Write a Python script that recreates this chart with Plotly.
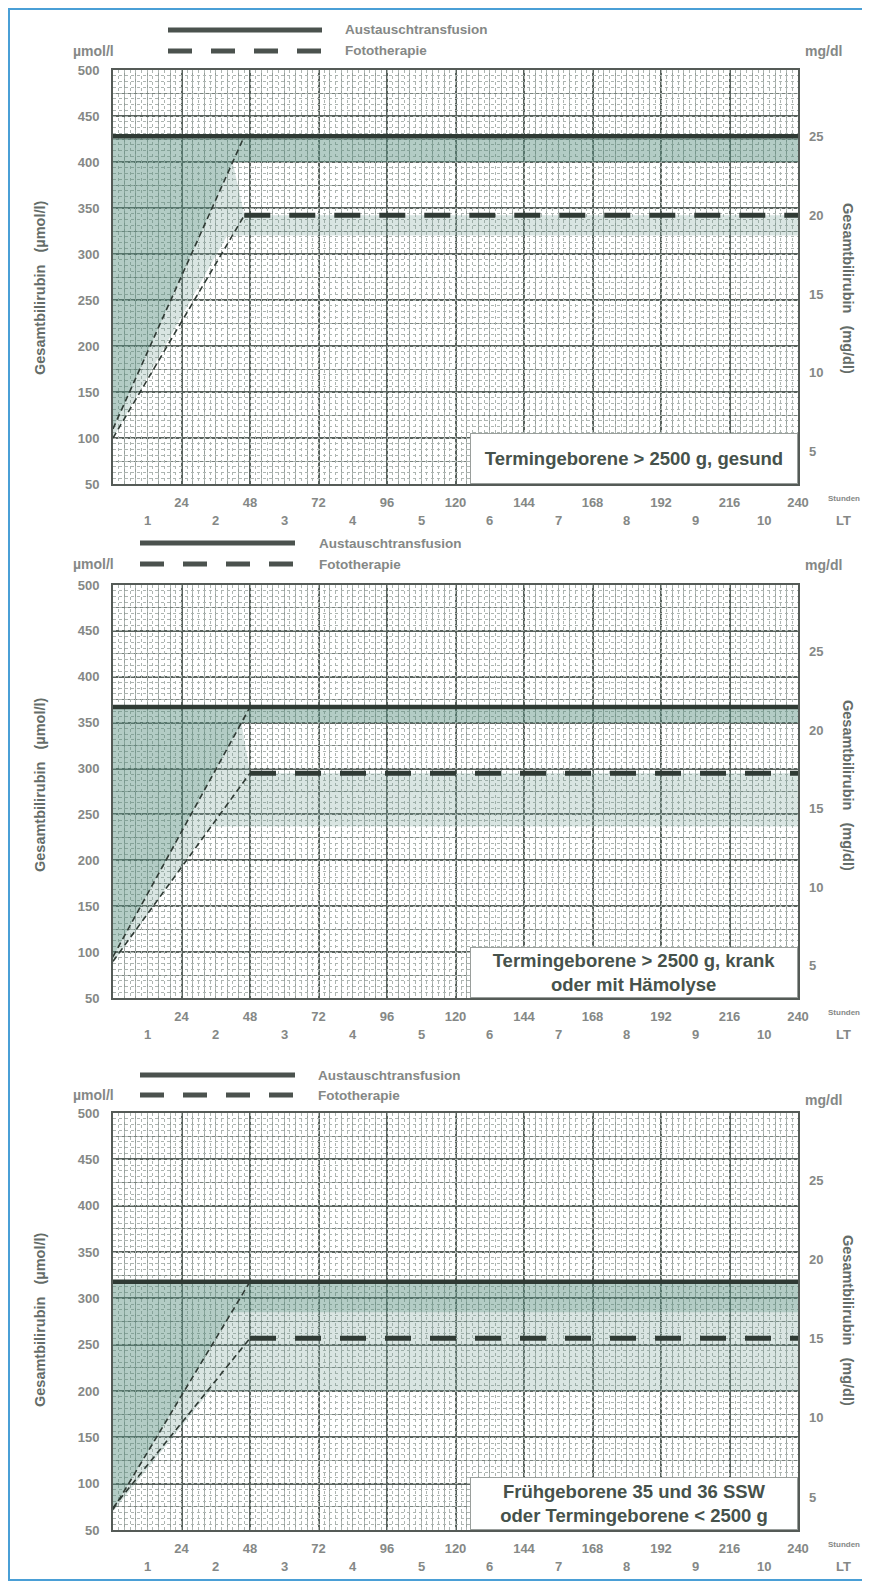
import plotly.graph_objects as go

PAGE_W, PAGE_H = 870, 1585
BODY_MARGIN = 8
W, H = PAGE_W - BODY_MARGIN, PAGE_H - BODY_MARGIN

# ---------------- data ----------------
hour_ticks = [24, 48, 72, 96, 120, 144, 168, 192, 216, 240]
day_labels = ["1", "2", "3", "4", "5", "6", "7", "8", "9", "10"]
day_centres = [12, 36, 60, 84, 108, 132, 156, 180, 204, 228]
umol_ticks = [50, 100, 150, 200, 250, 300, 350, 400, 450, 500]
mgdl_ticks = [5, 10, 15, 20, 25]
UMOL_PER_MGDL = 17.1

panel_labels = [
    "Termingeborene > 2500 g, gesund",
    "Termingeborene > 2500 g, krank<br>oder mit Hämolyse",
    "Frühgeborene 35 und 36 SSW<br>oder Termingeborene < 2500 g",
]
exchange_level = [428, 367, 318]        # Austauschtransfusion (µmol/l)
exchange_band_low = [400, 350, 285]
photo_level = [342, 295, 257]           # Fototherapie (µmol/l)
photo_band_low = [320, 237, 200]
gap_top = [400, 350, 257]
exchange_ramp_start = [110, 95, 72]     # µmol/l at hour 0
exchange_ramp_end_h = [46, 48, 48]
photo_ramp_start = [100, 90, 74]
photo_ramp_end_h = [46, 48, 48]
shade_edge_start = [100, 88, 70]
shade_edge_end_h = [40, 34, 34]

# ---------------- style / layout (page pixels) ----------------
panel_top_px = [70, 585, 1113]
panel_bot_px = [484, 998, 1530]
plot_left, plot_right = 113, 798
legend_solid_y = [30, 543, 1075]
legend_dash_y = [51, 564, 1095]
legend_x0 = [168, 140, 140]
legend_x1 = [322, 295, 295]
legend_text_x = [343, 317, 316]
mg_unit_y = [51, 565, 1100]
title_y_px = [288, 785, 1320]
box_h = [51, 51, 53]

FONT = "Liberation Sans, Arial, sans-serif"
GREY = "#858886"
DARK = "#2f3a34"
LIGHT_FILL = "rgba(120,160,150,0.28)"
DARK_FILL = "rgba(60,125,105,0.24)"


def px(x):
    return (x - BODY_MARGIN) / W


def py(y):
    return 1 - (y - BODY_MARGIN) / H


def label(x, y, text, size, color=GREY, xref="paper", yref="paper", **kw):
    d = dict(x=x, y=y, xref=xref, yref=yref, text=text, showarrow=False,
             xanchor="center", yanchor="middle",
             font=dict(family=FONT, size=size, color=color))
    d.update(kw)
    return d


fig = go.Figure()
annotations = []
shapes = []
layout = {}

for i in range(3):
    n = i + 1
    xa = "x" if n == 1 else f"x{n}"
    ya = "y" if n == 1 else f"y{n}"
    ymg = f"y{n + 3}"
    ydot = f"y{n + 6}"
    xdot = f"x{n + 3}"

    ex, exl = exchange_level[i], exchange_band_low[i]
    pt, ptl = photo_level[i], photo_band_low[i]
    er0, erh = exchange_ramp_start[i], exchange_ramp_end_h[i]
    pr0, prh = photo_ramp_start[i], photo_ramp_end_h[i]
    se0, seh = shade_edge_start[i], shade_edge_end_h[i]
    gt = gap_top[i]

    t_gap = erh * (gt - er0) / (ex - er0)
    t_exl = erh * (exl - er0) / (ex - er0)

    # light zone
    fig.add_trace(go.Scatter(
        x=[0, seh, 240, 240, prh, t_gap, 240, 240, 0],
        y=[se0, ptl, ptl, pt, pt, gt, gt, ex, ex],
        fill="toself", fillcolor=LIGHT_FILL, mode="lines", line=dict(width=0),
        xaxis=xa, yaxis=ya, showlegend=False, hoverinfo="skip"))
    # darker exchange zone
    fig.add_trace(go.Scatter(
        x=[0, t_exl, 240, 240, 0],
        y=[er0, exl, exl, ex, ex],
        fill="toself", fillcolor=DARK_FILL, mode="lines", line=dict(width=0),
        xaxis=xa, yaxis=ya, showlegend=False, hoverinfo="skip"))
    # ramps
    fig.add_trace(go.Scatter(
        x=[0, erh], y=[er0, ex], mode="lines",
        line=dict(color=DARK, width=1.6, dash="6px,4px"),
        xaxis=xa, yaxis=ya, showlegend=False, hoverinfo="skip"))
    fig.add_trace(go.Scatter(
        x=[0, prh], y=[pr0, pt], mode="lines",
        line=dict(color=DARK, width=1.6, dash="6px,4px"),
        xaxis=xa, yaxis=ya, showlegend=False, hoverinfo="skip"))
    # exchange transfusion line
    fig.add_trace(go.Scatter(
        x=[0, 240], y=[ex, ex], mode="lines",
        line=dict(color=DARK, width=4.5),
        xaxis=xa, yaxis=ya, showlegend=False, hoverinfo="skip"))
    # phototherapy line
    fig.add_trace(go.Scatter(
        x=[prh, 240], y=[pt, pt], mode="lines",
        line=dict(color=DARK, width=5, dash="26px,19px"),
        xaxis=xa, yaxis=ya, showlegend=False, hoverinfo="skip"))
    # invisible traces to activate overlay axes
    fig.add_trace(go.Scatter(x=[0, 240], y=[ex / UMOL_PER_MGDL] * 2, mode="lines",
                             line=dict(width=0), opacity=0, xaxis=xa, yaxis=ymg,
                             showlegend=False, hoverinfo="skip"))
    fig.add_trace(go.Scatter(x=[0, 240], y=[ex, ex], mode="lines",
                             line=dict(width=0), opacity=0, xaxis=xa, yaxis=ydot,
                             showlegend=False, hoverinfo="skip"))
    fig.add_trace(go.Scatter(x=[0, 240], y=[ex, ex], mode="lines",
                             line=dict(width=0), opacity=0, xaxis=xdot, yaxis=ya,
                             showlegend=False, hoverinfo="skip"))

    xdom = [px(plot_left), px(plot_right)]
    ydom = [py(panel_bot_px[i]), py(panel_top_px[i])]
    tickfont = dict(family=FONT, size=13, color=GREY)

    layout["xaxis" if n == 1 else f"xaxis{n}"] = dict(
        domain=xdom, anchor=ya, range=[0, 240], automargin=False,
        tickmode="array", tickvals=hour_ticks,
        ticktext=[f"<b>{v}</b>" for v in hour_ticks],
        tickfont=tickfont, ticks="", ticklabelstandoff=5,
        showgrid=True, gridcolor="#59625d", gridwidth=1.7,
        minor=dict(tick0=0, dtick=4, showgrid=True, gridcolor="#959e9a", gridwidth=1.0),
        showline=True, linecolor="#555b57", linewidth=2, mirror=True,
        zeroline=False, fixedrange=True)
    layout[f"xaxis{n + 3}"] = dict(
        domain=xdom, anchor=ya, overlaying=xa, range=[0, 240], automargin=False,
        tickmode="linear", tick0=0, dtick=2, showticklabels=False, ticks="",
        showgrid=True, gridcolor="#adb5b1", gridwidth=0.8, griddash="dot",
        showline=False, zeroline=False, fixedrange=True)
    layout["yaxis" if n == 1 else f"yaxis{n}"] = dict(
        domain=ydom, anchor=xa, range=[50, 500], automargin=False,
        tickmode="array", tickvals=umol_ticks,
        ticktext=[f"<b>{v}</b>" for v in umol_ticks],
        tickfont=tickfont, ticks="", ticklabelstandoff=9,
        showgrid=True, gridcolor="#59625d", gridwidth=1.6,
        minor=dict(tick0=0, dtick=25, showgrid=True, gridcolor="#7a837e", gridwidth=1.0),
        showline=True, linecolor="#555b57", linewidth=2, mirror=True,
        zeroline=False, fixedrange=True)
    layout[f"yaxis{n + 3}"] = dict(
        domain=ydom, anchor=xa, overlaying=ya, side="right", automargin=False,
        range=[50 / UMOL_PER_MGDL, 500 / UMOL_PER_MGDL],
        tickmode="array", tickvals=mgdl_ticks,
        ticktext=[f"<b>{v}</b>" for v in mgdl_ticks],
        tickfont=tickfont, ticks="", ticklabelstandoff=10,
        showgrid=False, showline=False, zeroline=False, fixedrange=True)
    layout[f"yaxis{n + 6}"] = dict(
        domain=ydom, anchor=xa, overlaying=ya, range=[50, 500], automargin=False,
        tickmode="linear", tick0=0, dtick=6.25, showticklabels=False, ticks="",
        showgrid=True, gridcolor="#adb5b1", gridwidth=0.8, griddash="dot",
        showline=False, zeroline=False, fixedrange=True)

    xdomref = f"{xa} domain"
    ydomref = f"{ya} domain"

    # day labels (LT)
    for d, lab in zip(day_centres, day_labels):
        annotations.append(label(d, 0, f"<b>{lab}</b>", 13, xref=xa, yref=ydomref, yshift=-36))
    annotations.append(label(px(843), 0, "<b>LT</b>", 13, yref=ydomref, yshift=-36))
    annotations.append(label(px(826), 0, "<b>Stunden</b>", 8, yref=ydomref, yshift=-14,
                             xanchor="left"))
    # unit labels
    annotations.append(label(px(93), py(legend_dash_y[i]), "<b>µmol/l</b>", 14))
    annotations.append(label(px(823), py(mg_unit_y[i]), "<b>mg/dl</b>", 14))
    # axis titles
    annotations.append(label(px(40), py(title_y_px[i]), "<b>Gesamtbilirubin   (µmol/l)</b>",
                             14.5, color="#646c68", textangle=-90))
    annotations.append(label(px(848), py(title_y_px[i]), "<b>Gesamtbilirubin   (mg/dl)</b>",
                             14.5, color="#646c68", textangle=90))
    # legend
    shapes.append(dict(type="line", xref="paper", yref="paper",
                       x0=px(legend_x0[i]), x1=px(legend_x1[i]),
                       y0=py(legend_solid_y[i]), y1=py(legend_solid_y[i]),
                       line=dict(color="#4b524e", width=5)))
    shapes.append(dict(type="line", xref="paper", yref="paper",
                       x0=px(legend_x0[i]), x1=px(legend_x1[i]),
                       y0=py(legend_dash_y[i]), y1=py(legend_dash_y[i]),
                       line=dict(color="#4b524e", width=5, dash="24px,19px")))
    annotations.append(label(px(legend_text_x[i]), py(legend_solid_y[i]),
                             "<b>Austauschtransfusion</b>", 13.5, xanchor="left"))
    annotations.append(label(px(legend_text_x[i]), py(legend_dash_y[i]),
                             "<b>Fototherapie</b>", 13.5, xanchor="left"))
    # panel label box
    annotations.append(label(1, 0, f"<b>{panel_labels[i]}</b>", 18.5, color="#46524b",
                             xref=xdomref, yref=ydomref, xanchor="right", yanchor="bottom",
                             width=324, height=box_h[i] - 4, borderpad=1,
                             bgcolor="white", bordercolor="#9a9f9c", borderwidth=1,
                             valign="middle", align="center"))

# blue frame
shapes.append(dict(type="rect", xref="paper", yref="paper",
                   x0=px(9), x1=px(866), y0=py(1580), y1=py(9),
                   line=dict(color="#4a9fd6", width=2), fillcolor="rgba(0,0,0,0)"))

fig.update_layout(
    width=W, height=H, margin=dict(l=0, r=0, t=0, b=0, autoexpand=False),
    paper_bgcolor="white", plot_bgcolor="white",
    showlegend=False, annotations=annotations, shapes=shapes,
    **layout)

fig.write_html("out.html")
